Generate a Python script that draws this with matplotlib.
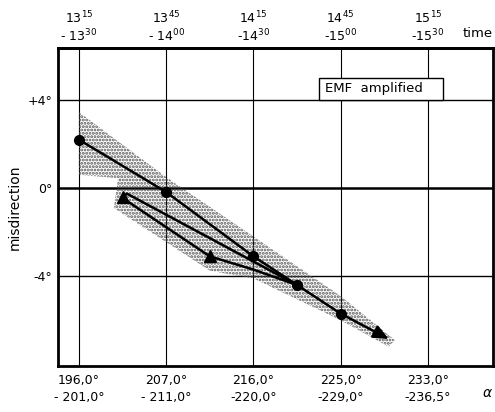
import matplotlib
matplotlib.use("Agg")
import matplotlib.pyplot as plt
from matplotlib.patches import Polygon, Rectangle

plt.rcParams['mathtext.default'] = 'regular'
plt.rcParams['hatch.linewidth'] = 1.4

# tick labels
alpha_labels = ["196,0°\n- 201,0°", "207,0°\n- 211,0°", "216,0°\n-220,0°",
                "225,0°\n-229,0°", "233,0°\n-236,5°"]
time_labels = ["13$^{15}$\n- 13$^{30}$", "13$^{45}$\n- 14$^{00}$", "14$^{15}$\n-14$^{30}$",
               "14$^{45}$\n-15$^{00}$", "15$^{15}$\n-15$^{30}$"]
ytick_vals = [4, 0, -4]
ytick_labels = ["+4°", "0°", "-4°"]

# series (x in grid-index units, y in degrees misdirection)
circle_x = [0.0, 1.0, 2.0, 2.5, 3.0]
circle_y = [2.2, -0.18, -3.1, -4.4, -5.7]
arrow_end_x = 3.55
arrow_end_y = -6.85

tri_x = [2.5, 0.55, 0.5, 1.5, 2.0, 2.5]
tri_y = [-4.4, -0.25, -0.45, -3.1, -3.7, -4.4]
tri_marker_x = [0.5, 1.5]
tri_marker_y = [-0.42, -3.1]

# scatter band (stippled area)
band_x = [0.0, 1.0, 2.0, 3.0, 3.62, 3.55, 3.0, 2.0, 1.5, 0.4, 0.45, 0.0]
band_y = [3.45, 0.5, -2.2, -4.9, -6.9, -7.2, -6.0, -4.1, -3.75, -0.9, 0.45, 0.6]

fig = plt.figure(figsize=(4.95, 4.12), dpi=100)
ax = fig.add_axes([0.117, 0.112, 0.879, 0.771])
ax.set_xlim(-0.24, 4.745)
ax.set_ylim(-8.07, 6.35)

band = Polygon(list(zip(band_x, band_y)), closed=True, facecolor='none',
               edgecolor='#555555', hatch='.....', lw=0, zorder=1)
ax.add_patch(band)

# grid
for xv in range(5):
    ax.axvline(xv, color='black', lw=0.8, zorder=0.5)
for yv in ytick_vals:
    ax.axhline(yv, color='black', lw=1.8 if yv == 0 else 1.0, zorder=0.5)

ax.plot(circle_x, circle_y, color='black', lw=1.8, marker='o', ms=7, zorder=3)
ax.annotate('', xy=(arrow_end_x, arrow_end_y), xytext=(circle_x[-1], circle_y[-1]),
            arrowprops=dict(arrowstyle='-|>,head_length=0.9,head_width=0.4',
                            color='black', lw=1.8, shrinkA=0, shrinkB=0), zorder=3)
ax.plot(tri_x, tri_y, color='black', lw=1.8, zorder=3)
ax.plot(tri_marker_x, tri_marker_y, ls='none', marker='^', ms=9, color='black', zorder=3)

# legend box
ax.add_patch(Rectangle((2.75, 4.0), 1.42, 1.0, facecolor='white', edgecolor='black',
                       lw=1.0, zorder=4))
ax.text(2.82, 4.5, "EMF  amplified", fontsize=9.5, va='center', ha='left', zorder=5)

ax.set_xticks(range(5))
ax.set_xticklabels(alpha_labels, fontsize=9, linespacing=1.4)
ax.set_yticks(ytick_vals)
ax.set_yticklabels(ytick_labels, fontsize=9)
ax.tick_params(axis='x', length=0, pad=6)
ax.tick_params(axis='y', length=0, pad=4)
ax.set_ylabel("misdirection", fontsize=10)
ax.yaxis.set_label_coords(-0.083, 0.5)

top = ax.secondary_xaxis('top')
top.set_xticks(range(5))
top.set_xticklabels(time_labels, fontsize=9, linespacing=1.05)
top.tick_params(length=0, pad=3)

for s in ax.spines.values():
    s.set_linewidth(2)
for s in top.spines.values():
    s.set_linewidth(2)

fig.text(0.935, 0.918, "time", fontsize=9.5, ha='left', va='center')
fig.text(0.985, 0.045, "α", fontsize=10, ha='center', va='center', style='italic')

fig.savefig("out.png", dpi=100)
